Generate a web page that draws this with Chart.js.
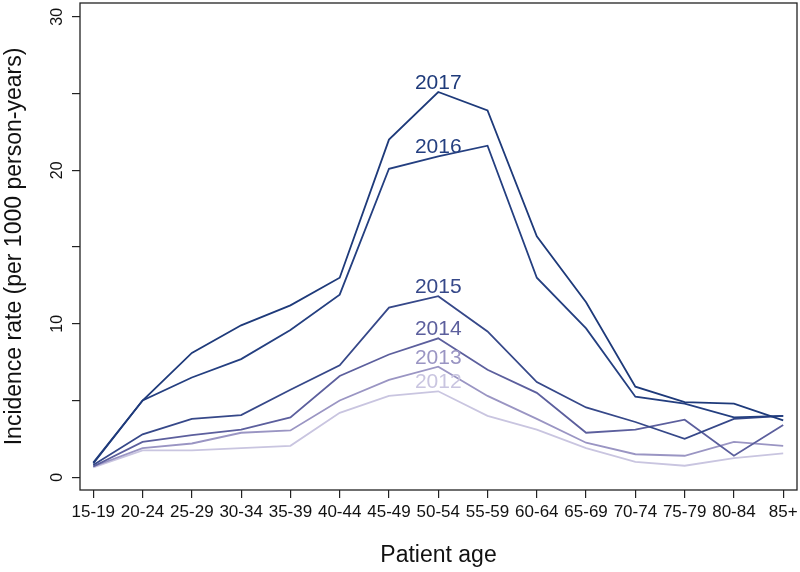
<!DOCTYPE html>
<html>
<head>
<meta charset="utf-8">
<script src="https://cdn.jsdelivr.net/npm/chart.js@4/dist/chart.umd.min.js"></script>
<style>
  html, body { margin: 0; padding: 0; background: #fff; }
</style>
</head>
<body>
<canvas id="incidenceChart" width="800" height="572"></canvas>
<script>
const ages = ['15-19', '20-24', '25-29', '30-34', '35-39', '40-44', '45-49', '50-54',
    '55-59', '60-64', '65-69', '70-74', '75-79', '80-84', '85+'];
const years = ['2017', '2016', '2015', '2014', '2013', '2012'];
const rate2017 = [0.95, 5.0, 8.1, 9.9, 11.2, 13.0, 22.0, 25.1, 23.9, 15.7, 11.4, 5.9, 4.9, 4.8, 3.7];
const rate2016 = [0.9, 5.0, 6.5, 7.7, 9.6, 11.9, 20.1, 20.9, 21.6, 13.0, 9.7, 5.25, 4.8, 3.9, 4.0];
const rate2015 = [0.8, 2.8, 3.8, 4.05, 5.7, 7.3, 11.05, 11.8, 9.5, 6.2, 4.55, 3.6, 2.5, 3.8, 4.0];
const rate2014 = [0.7, 2.3, 2.75, 3.1, 3.9, 6.6, 8.0, 9.05, 7.0, 5.5, 2.9, 3.1, 3.75, 1.4, 3.4];
const rate2013 = [0.7, 1.9, 2.2, 2.9, 3.05, 5.0, 6.35, 7.2, 5.3, 3.8, 2.25, 1.5, 1.4, 2.3, 2.05];
const rate2012 = [0.65, 1.75, 1.75, 1.9, 2.05, 4.2, 5.3, 5.6, 4.0, 3.1, 1.9, 1.0, 0.75, 1.25, 1.55];
const yTicks = [0, 5, 10, 15, 20, 25, 30];

const rates = [rate2017, rate2016, rate2015, rate2014, rate2013, rate2012];
const colors = ['#1e3a7a', '#243f80', '#364889', '#5c5f9d', '#9a95c3', '#c9c5e0'];
const labelIndex = ages.indexOf('50-54');
const fontFamily = "'Liberation Sans', Arial, Helvetica, sans-serif";

// put the year label above the 50-54 point of each line
const yearLabels = {
    id: 'yearLabels',
    afterDatasetsDraw(chart) {
        const ctx = chart.ctx;
        ctx.save();
        ctx.font = '21px ' + fontFamily;
        ctx.textAlign = 'center';
        ctx.textBaseline = 'alphabetic';
        chart.data.datasets.forEach((ds, i) => {
            const pt = chart.getDatasetMeta(i).data[labelIndex];
            ctx.fillStyle = ds.borderColor;
            ctx.fillText(ds.label, pt.x, pt.y - 3);
        });
        ctx.restore();
    },
};

// box round the plot region
const frame = {
    id: 'frame',
    afterDraw(chart) {
        const a = chart.chartArea;
        const ctx = chart.ctx;
        ctx.save();
        ctx.strokeStyle = '#222';
        ctx.lineWidth = 1.3;
        ctx.strokeRect(a.left, a.top, a.right - a.left, a.bottom - a.top);
        ctx.restore();
    },
};

const datasets = years.map((year, i) => ({
    label: year,
    data: ages.map((a, j) => ({ x: j, y: rates[i][j] })),
    borderColor: colors[i],
    backgroundColor: colors[i],
    borderWidth: 1.8,
    pointRadius: 0,
    tension: 0,
}));

new Chart(document.getElementById('incidenceChart'), {
    type: 'line',
    data: { datasets: datasets },
    options: {
        responsive: false,
        animation: false,
        layout: { padding: { top: 3, right: 3, left: 0, bottom: 0 } },
        plugins: {
            legend: { display: false },
            tooltip: { enabled: false },
        },
        scales: {
            x: {
                type: 'linear',
                min: -0.27,
                max: 14.28,
                afterBuildTicks: (scale) => { scale.ticks = ages.map((a, i) => ({ value: i })); },
                afterFit: (scale) => {
                    scale.height = 82;
                    scale.paddingLeft = 0;
                    scale.paddingRight = 0;
                },
                border: { display: false },
                grid: {
                    drawOnChartArea: false,
                    drawTicks: true,
                    tickLength: 8,
                    color: '#222',
                    lineWidth: 1.2,
                },
                ticks: {
                    autoSkip: false,
                    maxRotation: 0,
                    padding: 4,
                    color: '#111',
                    font: { family: fontFamily, size: 17 },
                    callback: (v) => ages[v],
                },
                title: {
                    display: true,
                    text: 'Patient age',
                    color: '#111',
                    padding: { top: 0, bottom: 3 },
                    font: { family: fontFamily, size: 23 },
                },
            },
            y: {
                min: -0.83,
                max: 30.9,
                afterBuildTicks: (scale) => { scale.ticks = yTicks.map((v) => ({ value: v })); },
                afterFit: (scale) => {
                    scale.width = 80;
                    scale.paddingTop = 0;
                    scale.paddingBottom = 0;
                },
                border: { display: false },
                grid: {
                    drawOnChartArea: false,
                    drawTicks: true,
                    tickLength: 8,
                    color: '#222',
                    lineWidth: 1.2,
                },
                ticks: {
                    minRotation: 90,
                    maxRotation: 90,
                    crossAlign: 'center',
                    padding: 6,
                    color: '#111',
                    font: { family: fontFamily, size: 16 },
                    callback: (v) => (v % 10 === 0 ? v : ''),
                },
                title: {
                    display: true,
                    text: 'Incidence rate (per 1000 person-years)',
                    color: '#111',
                    padding: { top: 1, bottom: 0 },
                    font: { family: fontFamily, size: 23 },
                },
            },
        },
    },
    plugins: [yearLabels, frame],
});
</script>
</body>
</html>
